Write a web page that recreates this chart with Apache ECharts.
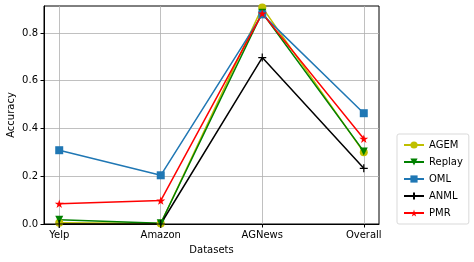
<!DOCTYPE html>
<html><head><meta charset="utf-8">
<script src="https://cdn.jsdelivr.net/npm/echarts@6/dist/echarts.min.js"></script>
<style>html,body{margin:0;padding:0;background:#fff}#c{width:474px;height:262px}</style>
</head><body><div id="c"></div>
<script>
const categories = ['Yelp', 'Amazon', 'AGNews', 'Overall'];
const agem   = [0.005, 0.002, 0.907, 0.300];
const replay = [0.018, 0.003, 0.885, 0.304];
const oml    = [0.309, 0.204, 0.878, 0.464];
const anml   = [0.000, 0.000, 0.697, 0.233];
const pmr    = [0.085, 0.098, 0.882, 0.357];
const yTicks = [0, 0.2, 0.4, 0.6, 0.8];

const font = 'DejaVu Sans';
const PLUS = 'path://M5,0L5,10M0,5L10,5';
const STAR = 'path://M50,0L61,35L98,35L68,57L79,91L50,70L21,91L32,57L2,35L39,35Z';
function mk(name, vals, color, symbol, size, rot) {
  return {
    name, type: 'line', data: vals.map((v, i) => [i, v]),
    symbol, symbolSize: size, symbolRotate: rot || 0, showSymbol: true, symbolKeepAspect: true,
    lineStyle: { color, width: 1.5 },
    itemStyle: { color, borderColor: color, borderWidth: symbol === PLUS ? 1.2 : 0 },
    emphasis: { disabled: true }, animation: false, clip: false
  };
}
const chart = echarts.init(document.getElementById('c'), null, { renderer: 'canvas' });
chart.setOption({
  animation: false,
  grid: { left: 44, top: 6, width: 335, height: 218, show: true, borderColor: '#000', borderWidth: 1, containLabel: false, outerBoundsMode: 'none' },
  graphic: [{
    type: 'text', x: 11, y: 115, rotation: Math.PI / 2,
    style: { text: 'Accuracy', fontFamily: font, fontSize: 10, fill: '#000', align: 'center', verticalAlign: 'middle' }
  }],
  xAxis: {
    type: 'value', min: -0.15, max: 3.15,
    name: 'Datasets', nameLocation: 'middle', nameGap: 21,
    nameTextStyle: { fontFamily: font, fontSize: 10, color: '#000' },
    axisLine: { show: true, onZero: false, lineStyle: { color: '#000', width: 1 } },
    axisTick: { show: true, customValues: [0, 1, 2, 3], length: 3.5, lineStyle: { color: '#000' } },
    axisLabel: { customValues: [0, 1, 2, 3], formatter: v => categories[Math.round(v)], fontFamily: font, fontSize: 10, color: '#000', margin: 6 },
    splitLine: { show: true, lineStyle: { color: '#b0b0b0', width: 0.8 } }
  },
  yAxis: {
    type: 'value', min: 0, max: 0.913,
    axisLine: { show: true, onZero: false, lineStyle: { color: '#000', width: 1 } },
    axisTick: { show: true, customValues: yTicks, length: 3.5, lineStyle: { color: '#000' } },
    axisLabel: { customValues: yTicks, formatter: v => v.toFixed(1), fontFamily: font, fontSize: 10, color: '#000', margin: 6 },
    splitLine: { show: true, lineStyle: { color: '#b0b0b0', width: 0.8 } }
  },
  legend: {
    orient: 'vertical', left: 397, top: 134,
    data: ['AGEM', 'Replay', 'OML', 'ANML', 'PMR'],
    itemWidth: 20, itemHeight: 9, itemGap: 7,
    padding: [6, 6, 6, 6],
    borderColor: '#d9d9d9', borderWidth: 1, borderRadius: 2, backgroundColor: '#fff',
    textStyle: { fontFamily: font, fontSize: 10, color: '#000' }
  },
  series: [
    mk('AGEM', agem, '#bfbf00', 'circle', 8),
    mk('Replay', replay, '#008000', 'triangle', 8, 180),
    mk('OML', oml, '#1f77b4', 'rect', 8),
    mk('ANML', anml, '#000000', PLUS, 8),
    mk('PMR', pmr, '#ff0000', STAR, 9)
  ]
});
</script></body></html>
